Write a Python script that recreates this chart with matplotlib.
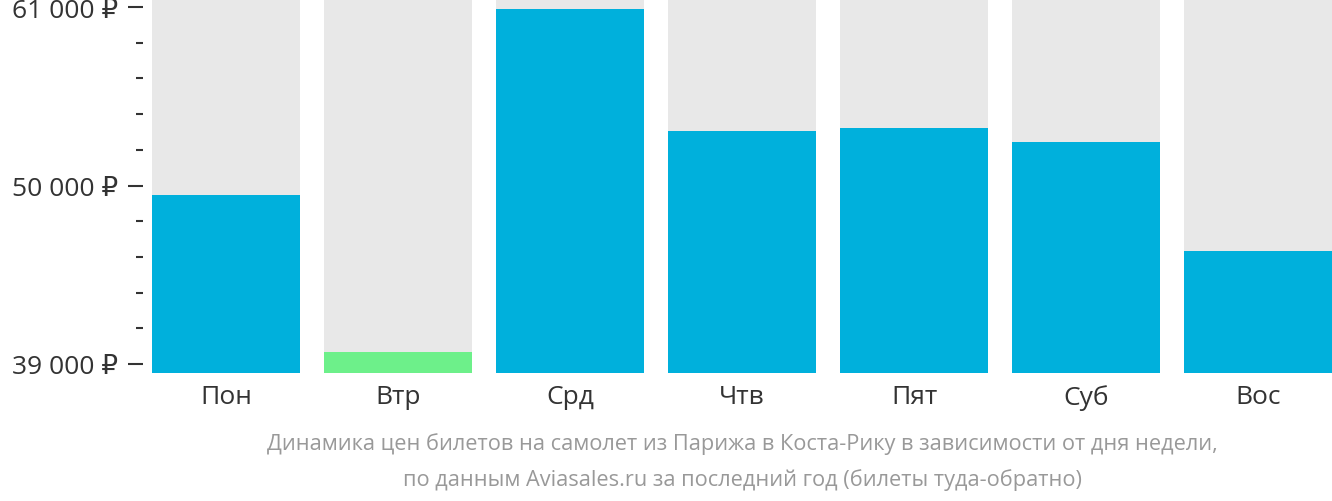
import matplotlib
matplotlib.use("Agg")
import matplotlib.pyplot as plt
from matplotlib.ticker import FixedLocator, FuncFormatter

days = ["Пон", "Втр", "Срд", "Чтв", "Пят", "Суб", "Вос"]
prices = [49400, 39740, 60880, 53340, 53520, 52660, 45980]
cheapest = "Втр"
major_ticks = [39000, 50000, 61000]
minor_ticks = [41200, 43400, 45600, 47800, 52200, 54400, 56600, 58800]
caption = ("Динамика цен билетов на самолет из Парижа в Коста-Рику в зависимости от дня недели,\n"
           "по данным Aviasales.ru за последний год (билеты туда-обратно)")

plt.rcParams['font.family'] = ['Open Sans', 'DejaVu Sans']

W, H = 1332, 502
fig = plt.figure(figsize=(W / 100, H / 100), dpi=100)
ax = fig.add_axes([152 / W, 1 - 374 / H, 1 - 152 / W, 374 / H])

ymin, ymax = 38440, 61500
x = list(range(len(days)))
colors = ["#6df08a" if d == cheapest else "#00b0dc" for d in days]
ax.bar(x, [ymax - ymin] * len(days), bottom=ymin, width=0.86, color="#e8e8e8")
ax.bar(x, [p - ymin for p in prices], bottom=ymin, width=0.86, color=colors)

ax.set_xlim(-0.43, len(days) - 1 + 0.43)
ax.set_ylim(ymin, ymax)

for s in ax.spines.values():
    s.set_visible(False)
ax.spines['left'].set_position(('outward', 6.5))

ax.yaxis.set_major_locator(FixedLocator(major_ticks))
ax.yaxis.set_minor_locator(FixedLocator(minor_ticks))
ax.yaxis.set_major_formatter(FuncFormatter(lambda v, p: f"{int(v):,}".replace(",", " ") + " ₽"))
ax.tick_params(axis='y', which='major', length=10.8, width=1.5, pad=7, labelsize=19,
               labelcolor="#333333", color="#333333")
ax.tick_params(axis='y', which='minor', length=5, width=1.5, color="#333333")

ax.set_xticks(x)
ax.set_xticklabels(days)
ax.tick_params(axis='x', length=0, pad=8, labelsize=19, labelcolor="#333333")

fig.text(742 / W, 1 - 462 / H, caption, ha="center", va="center", fontsize=15.7,
         color="#999999", linespacing=1.88)

fig.savefig("out.png", dpi=100)
